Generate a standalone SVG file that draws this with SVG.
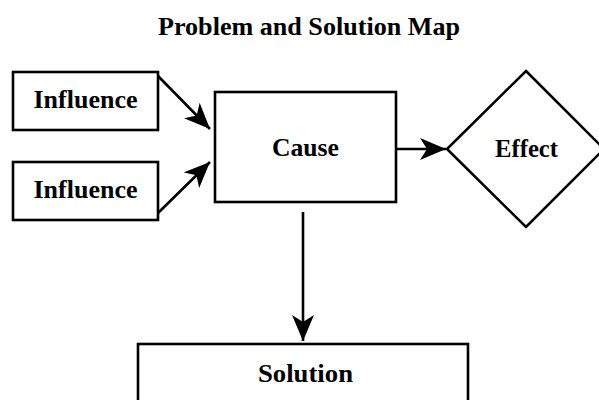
<svg xmlns="http://www.w3.org/2000/svg" width="599" height="400" viewBox="0 0 599 400">
<style>
.box{fill:#fff;stroke:#000;stroke-width:2.6}
.lbl{font-family:"Liberation Serif",serif;font-weight:bold;font-size:25px;fill:#000;text-anchor:middle}
.ttl{font-family:"Liberation Serif",serif;font-weight:bold;font-size:25px;fill:#000;text-anchor:middle}
.conn{stroke:#000;stroke-width:2.6;fill:none;marker-end:url(#arr)}
</style>
<defs>
<marker id="arr" viewBox="0 0 26 22" refX="26" refY="11" markerWidth="26" markerHeight="22" markerUnits="userSpaceOnUse" orient="auto">
<path d="M0,0 L26,11 L0,22 L7,11 z" fill="#000"/>
</marker>
</defs>
<rect width="599" height="400" fill="#fff"/>
<text class="ttl" x="309" y="35" textLength="302" lengthAdjust="spacingAndGlyphs">Problem and Solution Map</text>
<g id="connectors">
<line class="conn" x1="158" y1="76" x2="210" y2="129"/>
<line class="conn" x1="158" y1="213" x2="210" y2="162"/>
<line class="conn" x1="396" y1="149" x2="446" y2="149"/>
<line class="conn" x1="303" y1="212" x2="303" y2="341"/>
</g>
<g id="influence1">
<rect class="box" x="13" y="72" width="145" height="58"/>
<text class="lbl" x="85.5" y="108" textLength="104" lengthAdjust="spacingAndGlyphs">Influence</text>
</g>
<g id="influence2">
<rect class="box" x="13" y="162" width="145" height="58"/>
<text class="lbl" x="85.5" y="198" textLength="104" lengthAdjust="spacingAndGlyphs">Influence</text>
</g>
<g id="cause">
<rect class="box" x="215" y="92" width="181" height="110"/>
<text class="lbl" x="305.5" y="156" textLength="67" lengthAdjust="spacingAndGlyphs">Cause</text>
</g>
<g id="effect">
<polygon class="box" points="526,71 604,149 526,227 447,149"/>
<text class="lbl" x="526.5" y="157" textLength="63" lengthAdjust="spacingAndGlyphs">Effect</text>
</g>
<g id="solution">
<rect class="box" x="138" y="344" width="330" height="70"/>
<text class="lbl" x="305.5" y="382" textLength="95" lengthAdjust="spacingAndGlyphs">Solution</text>
</g>
</svg>
